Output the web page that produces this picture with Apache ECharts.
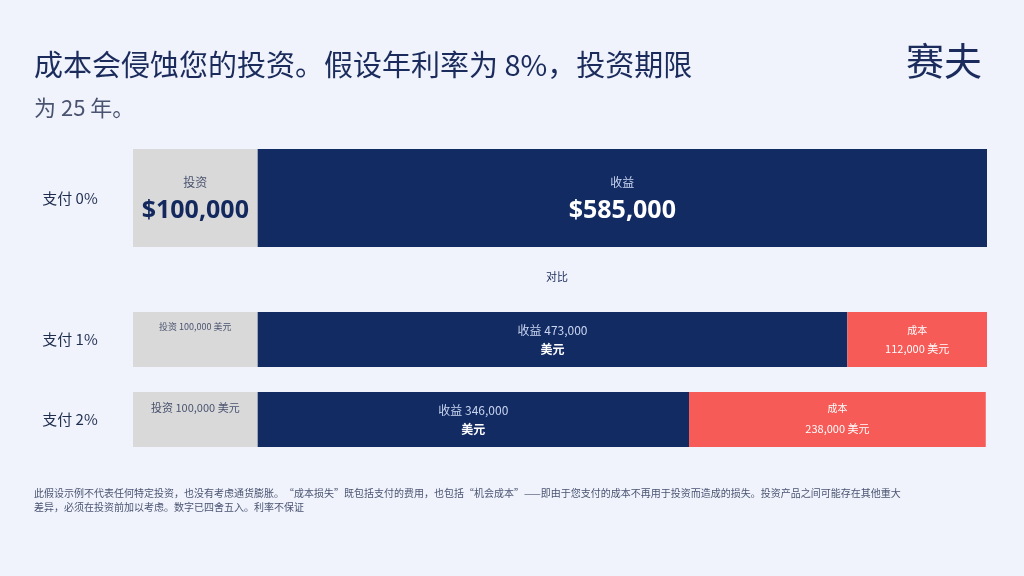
<!DOCTYPE html>
<html><head><meta charset="utf-8">
<script src="https://cdn.jsdelivr.net/npm/echarts@6/dist/echarts.min.js"></script>
<style>html,body{margin:0;padding:0;background:#f0f3fc;}#c{width:1024px;height:576px;}</style>
</head><body><div id="c"></div>
<script>
const categories = ['支付 0%', '支付 1%', '支付 2%'];
const investment = [100000, 100000, 100000];
const gains = [585000, 473000, 346000];
const costs = [0, 112000, 238000];

const F = '"Noto Sans CJK SC","Noto Sans",sans-serif';
const fmt = n => n.toLocaleString('en-US');
const grids = [
  {left:133, right:37, top:149, height:98},
  {left:133, right:37, top:312, height:55},
  {left:133, right:37, top:392, height:55}
];
const xAxis = [], yAxis = [], series = [];
grids.forEach((g,i)=>{
  xAxis.push({gridIndex:i,type:'value',min:0,max:685000,show:false});
  yAxis.push({gridIndex:i,type:'category',data:[categories[i]],axisLine:{show:false},axisTick:{show:false},
    axisLabel:{fontFamily:F,fontSize:15,color:'#1f2d4f',margin:63,align:'center'}});
  const big = i===0;
  series.push({type:'bar',xAxisIndex:i,yAxisIndex:i,stack:'s'+i,barWidth:'100%',data:[investment[i]],
    itemStyle:{color:'#d9d9d9'},
    label:{show:true,position:big?'inside':'insideTop',distance:big?0:10,fontFamily:F,
      formatter: big? '{a|投资}\n{b|$'+fmt(investment[i])+'}' : '投资 '+fmt(investment[i])+' 美元',
      color:'#4a5470',fontSize:i===1?9:11,
      rich:{a:{fontSize:12,color:'#4a5470',fontFamily:F,lineHeight:26},b:{fontSize:25,fontWeight:'bold',color:'#13295e',fontFamily:'"Open Sans",sans-serif',lineHeight:32}}}});
  series.push({type:'bar',xAxisIndex:i,yAxisIndex:i,stack:'s'+i,barWidth:'100%',data:[gains[i]],
    itemStyle:{color:'#132b63'},
    label:{show:true,position:'inside',fontFamily:F,
      formatter: big? '{a|收益}\n{b|$'+fmt(gains[i])+'}' : '{a|收益 '+fmt(gains[i])+'}\n{c|美元}',
      rich:{a:{fontSize:12,color:'#c9d5f0',fontFamily:F,lineHeight:big?26:19},
            b:{fontSize:25,fontWeight:'bold',color:'#ffffff',fontFamily:'"Open Sans",sans-serif',lineHeight:32},
            c:{fontSize:12,fontWeight:'bold',color:'#ffffff',fontFamily:F,lineHeight:19}}}});
  if(costs[i]>0) series.push({type:'bar',xAxisIndex:i,yAxisIndex:i,stack:'s'+i,barWidth:'100%',data:[costs[i]],
    itemStyle:{color:'#f65b57'},
    label:{show:true,position:'inside',fontFamily:F,
      formatter:'{a|成本}\n{b|'+fmt(costs[i])+' 美元}',
      rich:{a:{fontSize:10,color:'#ffffff',fontFamily:F,lineHeight:19},b:{fontSize:11,color:'#ffffff',fontFamily:F,lineHeight:i===1?19:23}}}});
});
const chart = echarts.init(document.getElementById('c'));
chart.setOption({
  backgroundColor:'#f0f3fc',
  animation:false,
  grid:grids,xAxis,yAxis,series,
  graphic:[
    {type:'text',left:34,top:50,style:{text:'成本会侵蚀您的投资。假设年利率为 8%，投资期限',fontFamily:F,fontSize:29,fill:'#1a2b5c'}},
    {type:'text',left:34,top:97,style:{text:'为 25 年。',fontFamily:F,fontSize:22,fill:'#4a5470'}},
    {type:'text',left:906,top:42,style:{text:'赛夫',fontFamily:F,fontSize:38,fill:'#1a2b5c'}},
    {type:'text',left:546,top:271,style:{text:'对比',fontFamily:F,fontSize:11,fill:'#1a2b5c'}},
    {type:'text',left:34,top:486,style:{text:'此假设示例不代表任何特定投资，也没有考虑通货膨胀。“成本损失”既包括支付的费用，也包括“机会成本”——即由于您支付的成本不再用于投资而造成的损失。投资产品之间可能存在其他重大\n差异，必须在投资前加以考虑。数字已四舍五入。利率不保证',fontFamily:F,fontSize:10,lineHeight:14,fill:'#4a5470'}}
  ]
});
</script></body></html>
